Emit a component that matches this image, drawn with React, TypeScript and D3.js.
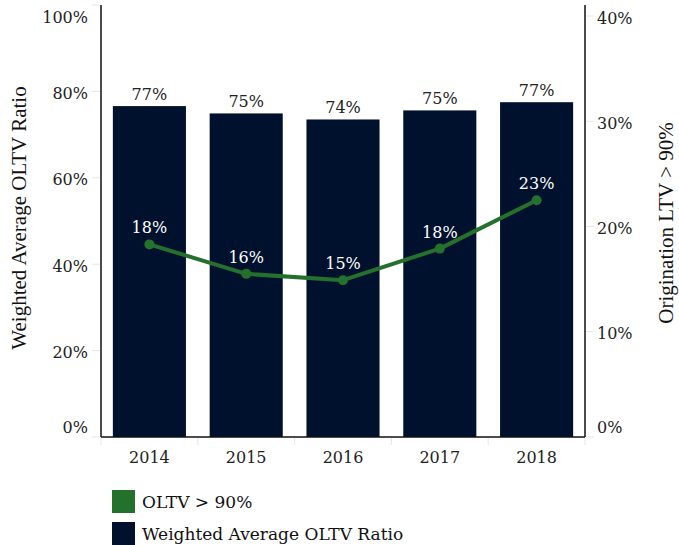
import React from "react";
import * as d3 from "d3";

const categories = ["2014", "2015", "2016", "2017", "2018"];
const avgOltv = [76.6, 74.9, 73.5, 75.6, 77.5];
const avgOltvLabels = ["77%", "75%", "74%", "75%", "77%"];
const highLtv = [18.3, 15.5, 14.9, 17.9, 22.5];
const highLtvLabels = ["18%", "16%", "15%", "18%", "23%"];
const leftTicks = [0, 20, 40, 60, 80, 100];
const rightTicks = [0, 10, 20, 30, 40];

const W = 679;
const H = 545;
const NAVY = "#00112d";
const GREEN = "#24702d";
const FONT = "'DejaVu Serif', Georgia, serif";
const TITLE_FONT = "'Liberation Serif', 'Times New Roman', serif";

export default function App() {
  const x0 = 101;
  const x1 = 585;
  const yBottom = 437;
  const x = d3.scaleBand<string>().domain(categories).range([x0, x1]).paddingInner(0).paddingOuter(0);
  const yL = d3.scaleLinear().domain([0, 100]).range([yBottom, 5]);
  const yR = d3.scaleLinear().domain([0, 40]).range([yBottom, 16]);
  const barW = x.bandwidth() * 0.755;
  const cx = (c: string) => (x(c) as number) + x.bandwidth() / 2;
  const line = d3
    .line<number>()
    .x((_, i) => cx(categories[i]))
    .y((d) => yR(d));
  const clampY = (v: number) => Math.max(17, Math.min(427, v));
  const boundaries = categories.map((c) => x(c) as number).concat([x1]);

  return (
    <svg
      width={W}
      height={H}
      style={{ position: "absolute", left: 0, top: 0, background: "#fff" }}
    >
      {/* bars */}
      {categories.map((c, i) => (
        <rect
          key={c}
          x={cx(c) - barW / 2}
          y={yL(avgOltv[i])}
          width={barW}
          height={yBottom - yL(avgOltv[i])}
          fill={NAVY}
        />
      ))}
      {/* bar labels */}
      {categories.map((c, i) => (
        <text
          key={"bl" + c}
          x={cx(c)}
          y={yL(avgOltv[i]) - 6}
          textAnchor="middle"
          fontFamily={FONT}
          fontSize={16}
          fill="#222"
        >
          {avgOltvLabels[i]}
        </text>
      ))}
      {/* left axis */}
      <line x1={x0} x2={x0} y1={5} y2={yBottom} stroke="#111" strokeWidth={1.5} />
      {leftTicks.map((t) => (
        <g key={"lt" + t}>
          <line x1={92} x2={100} y1={yL(t)} y2={yL(t)} stroke="#e6e6e6" strokeWidth={1} />
          <text
            x={88}
            y={clampY(yL(t) + 2)}
            dy="0.35em"
            textAnchor="end"
            fontFamily={FONT}
            fontSize={16}
            fill="#222"
          >
            {t + "%"}
          </text>
        </g>
      ))}
      {/* right axis */}
      <line x1={x1} x2={x1} y1={5} y2={yBottom} stroke="#111" strokeWidth={1.5} />
      {rightTicks.map((t) => (
        <g key={"rt" + t}>
          <line x1={586} x2={594} y1={yR(t)} y2={yR(t)} stroke="#e6e6e6" strokeWidth={1} />
          <text
            x={597}
            y={clampY(yR(t) + 2)}
            dy="0.35em"
            textAnchor="start"
            fontFamily={FONT}
            fontSize={16}
            fill="#222"
          >
            {t + "%"}
          </text>
        </g>
      ))}
      {/* bottom axis */}
      <line x1={x0} x2={x1} y1={yBottom} y2={yBottom} stroke="#111" strokeWidth={1.5} />
      {boundaries.map((b, i) => (
        <line key={"bt" + i} x1={b} x2={b} y1={438} y2={445} stroke="#e6e6e6" strokeWidth={1} />
      ))}
      {categories.map((c) => (
        <text
          key={"xl" + c}
          x={cx(c)}
          y={457}
          dy="0.35em"
          textAnchor="middle"
          fontFamily={FONT}
          fontSize={16}
          fill="#222"
        >
          {c}
        </text>
      ))}
      {/* line series */}
      <path d={line(highLtv) || ""} fill="none" stroke={GREEN} strokeWidth={4} strokeLinejoin="round" />
      {categories.map((c, i) => (
        <circle key={"pt" + c} cx={cx(c)} cy={yR(highLtv[i])} r={5} fill={GREEN} />
      ))}
      {categories.map((c, i) => (
        <text
          key={"ll" + c}
          x={cx(c)}
          y={yR(highLtv[i]) - 11}
          textAnchor="middle"
          fontFamily={FONT}
          fontSize={16}
          fill="#fff"
        >
          {highLtvLabels[i]}
        </text>
      ))}
      {/* axis titles */}
      <text
        transform={`translate(26,218) rotate(-90)`}
        textAnchor="middle"
        fontFamily={TITLE_FONT}
        fontSize={21}
        fill="#111"
      >
        Weighted Average OLTV Ratio
      </text>
      <text
        transform={`translate(673,223) rotate(-90)`}
        textAnchor="middle"
        fontFamily={TITLE_FONT}
        fontSize={21}
        fill="#111"
      >
        Origination LTV &gt; 90%
      </text>
      {/* legend */}
      <rect x={112} y={490} width={23} height={23} fill={GREEN} />
      <text x={142} y={502} dy="0.35em" fontFamily={FONT} fontSize={17} fill="#111">
        OLTV &gt; 90%
      </text>
      <rect x={112} y={522} width={23} height={23} fill={NAVY} />
      <text x={142} y={534} dy="0.35em" fontFamily={FONT} fontSize={17} fill="#111">
        Weighted Average OLTV Ratio
      </text>
    </svg>
  );
}
